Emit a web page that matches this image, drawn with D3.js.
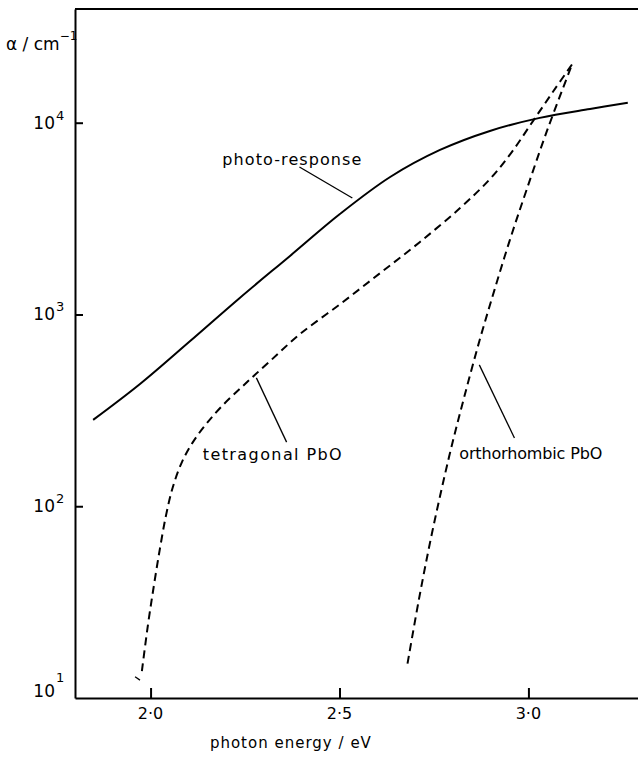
<!DOCTYPE html>
<html>
<head>
<meta charset="utf-8">
<script src="https://d3js.org/d3.v7.min.js"></script>
<style>
  body { margin: 0; background: #fff; }
  svg { font-family: "DejaVu Sans", sans-serif; }
  .axis path, .axis line { stroke: #000; stroke-width: 2; }
</style>
</head>
<body>
<div id="chart"></div>
<script>
// data (photon energy in eV, alpha in cm^-1)
var photoE = [1.848, 1.972, 2.104, 2.236, 2.369, 2.501, 2.634, 2.766, 2.898, 3.030, 3.163, 3.263];
var photoAlpha = [282, 434, 725, 1220, 2020, 3340, 5210, 7210, 9060, 10600, 11800, 12700];

var tetraE = [1.977, 1.993, 2.009, 2.025, 2.041, 2.059, 2.083, 2.112, 2.147, 2.189, 2.250, 2.316, 2.395, 2.501, 2.607, 2.713, 2.819, 2.898, 2.956, 3.012, 3.065, 3.118];
var tetraAlpha = [13.8, 24.0, 38.8, 60.5, 89.9, 126, 170, 216, 268, 333, 434, 571, 789, 1130, 1640, 2390, 3590, 5080, 7030, 10200, 14500, 20500];

var orthoE = [2.680, 2.710, 2.745, 2.790, 2.828, 2.871, 2.910, 2.951, 2.995, 3.050, 3.117];
var orthoAlpha = [15.1, 32.5, 72.7, 181, 358, 736, 1340, 2450, 4460, 9170, 20500];

// stray pen mark at the foot of the tetragonal curve
var strayE = [1.959, 1.972];
var strayAlpha = [12.9, 12.4];

var xTicks = [2.0, 2.5, 3.0];
var xTickLabels = ["2·0", "2·5", "3·0"];
var yTicks = [10, 100, 1000, 10000];
var yTickExp = ["1", "2", "3", "4"];

// curve labels: text, text anchor point, leader start, leader end (data units)
var labelText = ["photo-response", "tetragonal PbO", "orthorhombic PbO"];
var labelAt = [[2.190, 6010], [2.138, 174], [2.817, 177]];
var leaderFrom = [[2.394, 5880], [2.280, 467], [2.870, 546]];
var leaderTo = [[2.534, 4050], [2.360, 216], [2.963, 227]];
var labelWidth = [139, 139, 143];

var svgWidth = 638;
var svgHeight = 758;

var margin = {
  top: 9,
  right: 0,
  bottom: 60,
  left: 75
};

var width = svgWidth - margin.left - margin.right;
var height = svgHeight - margin.top - margin.bottom;

var svg = d3.select("#chart")
  .append("svg")
  .attr("width", svgWidth)
  .attr("height", svgHeight);

var chartGroup = svg.append("g")
  .attr("transform", `translate(${margin.left}, ${margin.top})`);

// scales
var xScale = d3.scaleLinear()
  .domain([1.8, 3.29])
  .range([0, width]);

var yScale = d3.scaleLog()
  .domain([10, Math.pow(10, 4.593)])
  .range([height, 0]);

// axes, ticks pointing inward
var bottomAxis = d3.axisBottom(xScale)
  .tickValues(xTicks)
  .tickSize(-10)
  .tickSizeOuter(0)
  .tickFormat("");

var leftAxis = d3.axisLeft(yScale)
  .tickValues(yTicks.slice(1))
  .tickSize(-8)
  .tickSizeOuter(0)
  .tickFormat("");

chartGroup.append("g")
  .attr("class", "axis")
  .attr("transform", `translate(0, ${height})`)
  .call(bottomAxis);

chartGroup.append("g")
  .attr("class", "axis")
  .call(leftAxis);

// top frame line
chartGroup.append("line")
  .attr("x1", 0)
  .attr("x2", width)
  .attr("y1", 0)
  .attr("y2", 0)
  .attr("stroke", "#000")
  .attr("stroke-width", 2);

// x tick labels
chartGroup.selectAll(".xlab")
  .data(xTicks)
  .enter()
  .append("text")
  .attr("x", d => xScale(d))
  .attr("y", height + 21)
  .attr("text-anchor", "middle")
  .attr("font-size", 16)
  .text((d, i) => xTickLabels[i]);

// y tick labels as 10 with a raised exponent
yTicks.forEach(function(v, i) {
  var base = Math.min(yScale(v) + 6, height - 1);
  chartGroup.append("text")
    .attr("x", -20)
    .attr("y", base)
    .attr("text-anchor", "end")
    .attr("font-size", 17)
    .text("10");
  chartGroup.append("text")
    .attr("x", -19)
    .attr("y", base - (i == 0 ? 15 : 9))
    .attr("font-size", 13)
    .text(yTickExp[i]);
});

// axis titles
var yTitle = svg.append("text")
  .attr("x", 6)
  .attr("y", 50)
  .attr("font-size", 17);
yTitle.append("tspan").text("α / cm");
yTitle.append("tspan")
  .attr("font-size", 12)
  .attr("dy", -10)
  .text("−1");

svg.append("text")
  .attr("x", margin.left + xScale(2.37))
  .attr("y", 748)
  .attr("text-anchor", "middle")
  .attr("font-size", 15)
  .attr("textLength", 161)
  .text("photon energy / eV");

// curves
var line = d3.line()
  .x(d => xScale(d[0]))
  .y(d => yScale(d[1]))
  .curve(d3.curveCatmullRom);

chartGroup.append("path")
  .datum(d3.zip(photoE, photoAlpha))
  .attr("d", line)
  .attr("fill", "none")
  .attr("stroke", "#000")
  .attr("stroke-width", 2);

chartGroup.append("path")
  .datum(d3.zip(tetraE, tetraAlpha))
  .attr("d", line)
  .attr("fill", "none")
  .attr("stroke", "#000")
  .attr("stroke-width", 2)
  .attr("stroke-dasharray", "8,5");

chartGroup.append("path")
  .datum(d3.zip(orthoE, orthoAlpha))
  .attr("d", line)
  .attr("fill", "none")
  .attr("stroke", "#000")
  .attr("stroke-width", 2)
  .attr("stroke-dasharray", "8,5");

chartGroup.append("path")
  .datum(d3.zip(strayE, strayAlpha))
  .attr("d", d3.line().x(d => xScale(d[0])).y(d => yScale(d[1])))
  .attr("fill", "none")
  .attr("stroke", "#000")
  .attr("stroke-width", 1.3);

// labels and leader lines
labelText.forEach(function(t, i) {
  chartGroup.append("line")
    .attr("x1", xScale(leaderFrom[i][0]))
    .attr("y1", yScale(leaderFrom[i][1]))
    .attr("x2", xScale(leaderTo[i][0]))
    .attr("y2", yScale(leaderTo[i][1]))
    .attr("stroke", "#000")
    .attr("stroke-width", 1.3);
  chartGroup.append("text")
    .attr("x", xScale(labelAt[i][0]))
    .attr("y", yScale(labelAt[i][1]))
    .attr("font-size", 16)
    .attr("textLength", labelWidth[i])
    .text(t);
});
</script>
</body>
</html>
